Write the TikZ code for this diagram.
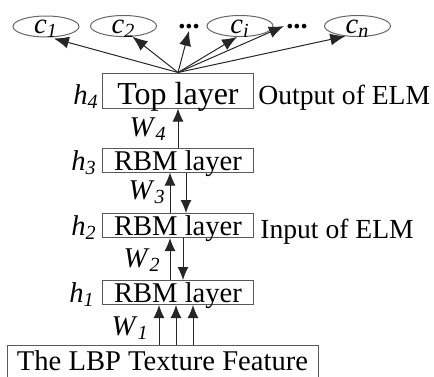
\documentclass[tikz,border=0pt]{standalone}
\usepackage{fontspec}
\setmainfont{Liberation Serif}
\usetikzlibrary{shapes.geometric,arrows.meta,positioning}

\newcommand{\vsub}[2]{\textit{#1}\textsubscript{\textit{#2}}}

\tikzset{
	layer/.style={draw=black!65, line width=0.5pt, inner sep=0pt, minimum width=75.5pt, text height=11pt, text depth=1pt},
	cls/.style={ellipse, draw=black!60, line width=0.5pt, inner sep=0pt, minimum width=33pt, minimum height=10.5pt, text height=7pt, text depth=0pt},
	link/.style={-{Latex[length=6.5pt,width=5.5pt]}, line width=0.5pt, draw=black!85},
	fan/.style={link, -{Latex[length=7.5pt,width=6pt]}},
	dotsnode/.style={inner sep=1pt, anchor=base, font=\fontsize{14.3pt}{17pt}\selectfont\bfseries},
	lab/.style={inner sep=0pt},
	side/.style={inner sep=0pt, font=\fontsize{13.8pt}{16pt}\selectfont},
}

\begin{document}
\begin{tikzpicture}[x=0.5pt, y=-0.5pt, font=\fontsize{14.3pt}{17pt}\selectfont]
	\useasboundingbox (0,0) rectangle (434,376);

	\node[cls] (c1) at (46, 26.5) {\vsub{c}{1}};
	\node[cls] (c2) at (123.5, 26) {\vsub{c}{2}};
	\node[dotsnode] (dots1) at (189, 28) {...};
	\node[cls] (ci) at (240, 26) {\vsub{c}{i}};
	\node[dotsnode] (dots2) at (297, 28) {...};
	\node[cls] (cn) at (357.5, 26) {\vsub{c}{n}};

	\node[layer, text height=15.5pt, text depth=2pt, font=\fontsize{16pt}{18pt}\selectfont] (top) at (178, 90.5) {Top layer};
	\node[layer] (h3) at (178, 160) {RBM layer};
	\node[layer] (h2) at (178, 225.5) {RBM layer};
	\node[layer] (h1) at (178, 292.5) {RBM layer};
	\node[layer, minimum width=155.5pt, text height=12.5pt, text depth=3.5pt] (feat) at (162.5, 361) {The LBP Texture Feature};

	\node[lab, left=1.5pt of top.base west, anchor=base east] (lh4) {\vsub{h}{4}};
	\node[lab, left=2.5pt of h3.base west, anchor=base east] (lh3) {\vsub{h}{3}};
	\node[lab, left=2.5pt of h2.base west, anchor=base east] (lh2) {\vsub{h}{2}};
	\node[lab, left=3.5pt of h1.base west, anchor=base east] (lh1) {\vsub{h}{1}};

	\node[side, right=2pt of top.base east, anchor=base west] (outlab) {Output of ELM};
	\node[side, right=3pt of h2.base east, anchor=base west, yshift=-1.5pt] (inlab) {Input of ELM};

	\node[lab, anchor=base east] (w4) at (167, 136) {\vsub{W}{4}};
	\node[lab, anchor=base east] (w3) at (166, 199) {\vsub{W}{3}};
	\node[lab, anchor=base east] (w2) at (161, 267) {\vsub{W}{2}};
	\node[lab, anchor=base east] (w1) at (149, 335) {\vsub{W}{1}};

	% top layer to the classes
	\draw[fan, shorten >=2pt] (top.north) -- (c1.-70);
	\draw[fan] (top.north) -- (c2.-50);
	\draw[fan] (top.north) -- (dots1.south);
	\draw[fan] (top.north) -- (ci.-105);
	\draw[fan] (top.north) -- (dots2.west);
	\draw[fan] (top.north) -- (cn.-140);

	% between the layers
	\draw[link] (h3.north) -- (top.south);
	\draw[link] ([xshift=-4pt]h2.north) -- ([xshift=-4pt]h3.south);
	\draw[link] ([xshift=4pt]h3.south) -- ([xshift=4pt]h2.north);
	\draw[link] ([xshift=-4pt]h1.north) -- ([xshift=-4pt]h2.south);
	\draw[link] ([xshift=2.5pt]h2.south) -- ([xshift=2.5pt]h1.north);
	\foreach \dx in {-9.5,-1,7.5}
		\draw[link] ([xshift=\dx pt]h1.south |- feat.north) -- ([xshift=\dx pt]h1.south);

\end{tikzpicture}
\end{document}
